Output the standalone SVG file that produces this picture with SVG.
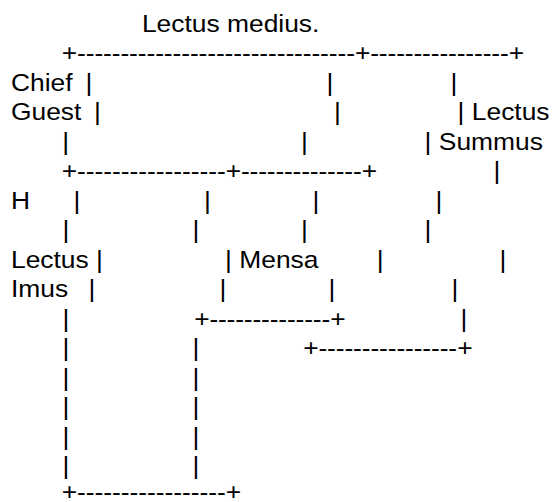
<svg xmlns="http://www.w3.org/2000/svg" width="552" height="502" viewBox="0 0 552 502">
<style>
text{font-family:"Liberation Sans",Arial,sans-serif;font-size:24px;fill:#000;white-space:pre}
</style>
<rect width="552" height="502" fill="#fff"/>
<g transform="scale(1.1 1)">
<g id="labels">
<text x="129" y="32">Lectus medius.</text>
<text x="10" y="91">Chief</text>
<text x="10" y="120.5">Guest</text>
<text x="416" y="120.5">| Lectus</text>
<text x="386" y="150">| Summus</text>
<text x="10" y="209">H</text>
<text x="10" y="268">Lectus |</text>
<text x="204.6" y="268">| Mensa</text>
<text x="10" y="297.5">Imus</text>
</g>
<g id="connectors">
<text x="56.1" y="61.5" textLength="266.6" lengthAdjust="spacing">+--------------------------------</text>
<text x="322.7" y="61.5" textLength="139.8" lengthAdjust="spacing">+----------------</text>
<text x="462.5" y="61.5">+</text>
<text x="77.8" y="91">|</text>
<text x="296.9" y="91">|</text>
<text x="409.6" y="91">|</text>
<text x="85.5" y="120.5">|</text>
<text x="303.7" y="120.5">|</text>
<text x="56.5" y="150">|</text>
<text x="273.7" y="150">|</text>
<text x="56.1" y="179.5" textLength="149.1" lengthAdjust="spacing">+-----------------</text>
<text x="205.2" y="179.5" textLength="123.6" lengthAdjust="spacing">+--------------</text>
<text x="328.8" y="179.5">+</text>
<text x="448.7" y="179.5">|</text>
<text x="66.9" y="209">|</text>
<text x="185.5" y="209">|</text>
<text x="284.2" y="209">|</text>
<text x="396" y="209">|</text>
<text x="56.9" y="238.5">|</text>
<text x="175.1" y="238.5">|</text>
<text x="273.7" y="238.5">|</text>
<text x="386" y="238.5">|</text>
<text x="342.4" y="268">|</text>
<text x="454.2" y="268">|</text>
<text x="80.5" y="297.5">|</text>
<text x="199.6" y="297.5">|</text>
<text x="298.7" y="297.5">|</text>
<text x="410.5" y="297.5">|</text>
<text x="56.9" y="327">|</text>
<text x="176.5" y="327" textLength="123.7" lengthAdjust="spacing">+--------------</text>
<text x="300.2" y="327">+</text>
<text x="418.7" y="327">|</text>
<text x="56.9" y="356.5">|</text>
<text x="175.1" y="356.5">|</text>
<text x="275.6" y="356.5" textLength="140" lengthAdjust="spacing">+----------------</text>
<text x="415.6" y="356.5">+</text>
<text x="56.9" y="386">|</text>
<text x="175.1" y="386">|</text>
<text x="56.9" y="415.5">|</text>
<text x="175.1" y="415.5">|</text>
<text x="56.9" y="445">|</text>
<text x="175.1" y="445">|</text>
<text x="56.9" y="474.5">|</text>
<text x="175.1" y="474.5">|</text>
<text x="56.1" y="500.5" textLength="149.1" lengthAdjust="spacing">+-----------------</text>
<text x="205.2" y="500.5">+</text>
</g>
</g>
</svg>
